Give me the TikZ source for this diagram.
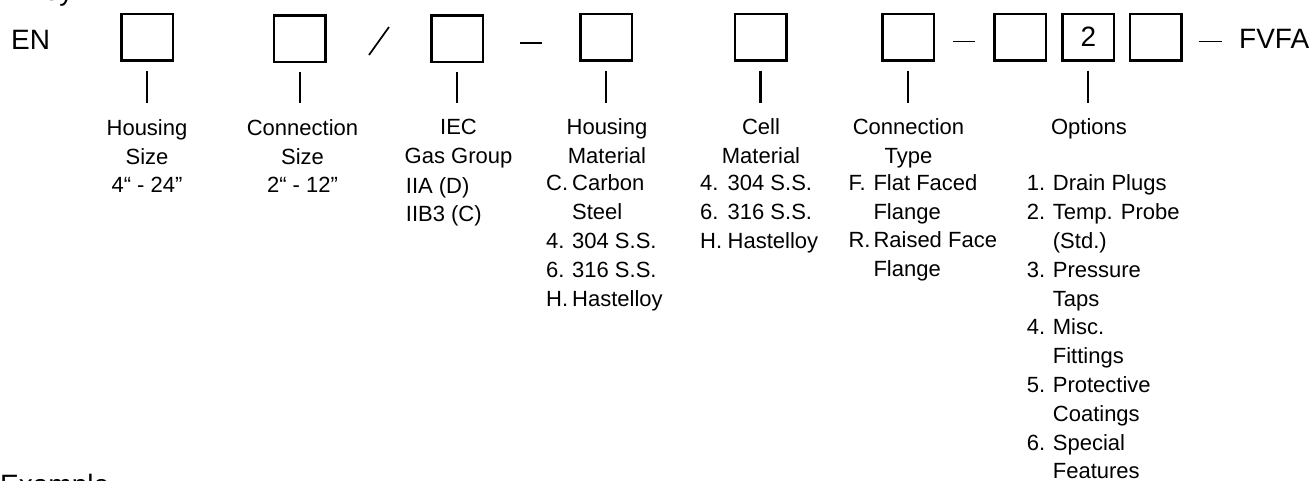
\documentclass[tikz,border=0pt]{standalone}
\usepackage{fontspec}
\setmainfont{Liberation Sans}
\usepackage{array}

\tikzset{
  digit/.style={draw, line width=2.5pt, minimum width=51.5pt, minimum height=46.5pt,
    inner sep=0pt, font=\fontsize{28}{30}\selectfont},
  tick/.style={line width=2.2pt, shorten <=9pt, shorten >=16pt},
  head/.style={align=center, inner sep=0pt, anchor=north, font=\fontsize{22}{28.8}\selectfont},
  items/.style={inner sep=0pt, anchor=north west, font=\fontsize{22}{28.8}\selectfont},
  big/.style={inner sep=0pt, anchor=base west, font=\fontsize{28}{30}\selectfont},
  rule/.style={line width=1.7pt}
}

\begin{document}
\begin{tikzpicture}[x=1pt, y=-1pt]
  \useasboundingbox (0,0) rectangle (1312,480);
  % cut-off titles at the edges
  \node[big] (key) at (25,0) {Key};
  \node[big] (example) at (0,494) {Example};
  % the model code
  \node[big] (en) at (11,49) {EN};
  \node[digit] (b1) at (147.0,37.2) {};
  \node[digit] (b2) at (299.7,38.8) {};
  \node[digit] (b3) at (457.2,38.8) {};
  \node[digit] (b4) at (606.2,37.2) {};
  \node[digit] (b5) at (760.5,37.2) {};
  \node[digit] (b6) at (908.3,37.2) {};
  \node[digit] (b7) at (1020.0,37.2) {};
  \node[digit] (b8) at (1088.3,37.2) {2};
  \node[digit] (b9) at (1155.7,37.2) {};
  \node[big] (fvfa) at (1239,48.5) {FVFA};
  \draw[rule] (369,55) -- (389,27);
  \draw[rule] (520,43) -- (541.7,43);
  \draw[rule] (953,41.5) -- (975,41.5);
  \draw[rule] (1198.5,41.5) -- (1221.7,41.5);
  % headings
  \node[head] (h1) at (147.0,119.2) {Housing\\Size\\4“ - 24”};
  \node[head] (h2) at (302.5,119.2) {Connection\\Size\\2“ - 12”};
  \node[head] (h3) at (458.5,119.2) {IEC\\Gas Group};
  \node[head] (h4) at (607.0,118.5) {Housing\\Material};
  \node[head] (h5) at (761.0,118.5) {Cell\\Material};
  \node[head] (h6) at (908.5,118.5) {Connection\\Type};
  \node[head] (h7) at (1089.0,118.5) {Options};
  % choices
  \node[items] (l3) at (405.7,172.8) {\begin{tabular}{@{}l@{}}
    IIA (D)\\ IIB3 (C)\end{tabular}};
  \node[items] (l4) at (546.0,170.5) {\begin{tabular}{@{}p{26pt}@{}l@{}}
    C. & Carbon\\ & Steel\\ 4. & 304 S.S.\\ 6. & 316 S.S.\\ H. & Hastelloy\end{tabular}};
  \node[items] (l5) at (700.0,170.5) {\begin{tabular}{@{}p{27.5pt}@{}l@{}}
    4. & 304 S.S.\\ 6. & 316 S.S.\\ H. & Hastelloy\end{tabular}};
  \node[items] (l6) at (848.3,170.0) {\begin{tabular}{@{}p{25pt}@{}l@{}}
    F. & Flat Faced\\ & Flange\\ R. & Raised Face\\ & Flange\end{tabular}};
  \node[items] (l7) at (1026.7,170.5) {\begin{tabular}{@{}p{26pt}@{}l@{}}
    1. & Drain Plugs\\ 2. & Temp. Probe\\ & (Std.)\\ 3. & Pressure\\ & Taps\\
    4. & Misc.\\ & Fittings\\ 5. & Protective\\ & Coatings\\ 6. & Special\\ & Features\end{tabular}};
  % ticks from the boxes to their headings
  \draw[tick] (b1.south) -- (b1.south |- h1.north);
  \draw[tick] (b2.south) -- (b2.south |- h2.north);
  \draw[tick] (b3.south) -- (b3.south |- h3.north);
  \draw[tick] (b4.south) -- (b4.south |- h4.north);
  \draw[tick] (b5.south) -- (b5.south |- h5.north);
  \draw[tick] (b6.south) -- (b6.south |- h6.north);
  \draw[tick] (b8.south) -- (b8.south |- h7.north);
\end{tikzpicture}
\end{document}
